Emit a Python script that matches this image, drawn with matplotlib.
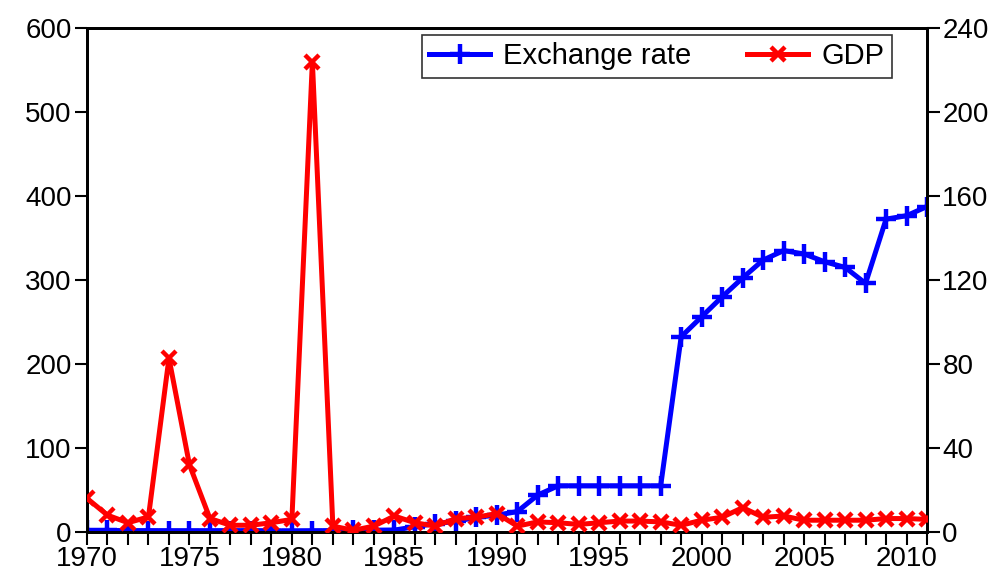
import matplotlib.pyplot as plt
import numpy as np

plt.rcParams['font.family'] = ['Liberation Sans', 'DejaVu Sans']

years = np.arange(1970, 2012)

# exchange rate (right axis)
exchange_rate = [0.71, 0.71, 0.66, 0.66, 0.63, 0.62, 0.63, 0.65, 0.64, 0.60,
                 0.55, 0.61, 0.67, 0.72, 0.77, 0.89, 2.5, 4.0, 5.0, 7.0,
                 8.0, 9.7, 17.6, 22.0, 22.0, 22.0, 22.0, 22.0, 22.0, 93.0,
                 102.5, 112.0, 121.0, 129.5, 134.0, 132.4, 128.7, 126.0, 118.4, 149.0,
                 150.6, 155.0]

# GDP (left axis)
gdp = [40, 20, 11, 18, 207, 80, 16, 8, 8, 11,
       15, 560, 7, 2, 7, 19, 11, 7, 16, 17.5,
       22, 7, 12, 11, 9, 11, 13, 13, 12, 8,
       14, 17.5, 29, 17.5, 19, 14, 14, 14, 14, 16,
       16, 15]

fig = plt.figure(figsize=(10.07, 5.74), dpi=100)
ax = fig.add_axes([0.0864, 0.0732, 0.8342, 0.878])
ax2 = ax.twinx()

l1, = ax2.plot(years, exchange_rate, color="#0000ff", lw=3.6, marker="+",
               ms=14, mew=3.2, label="Exchange rate", zorder=2)
l2, = ax.plot(years, gdp, color="#ff0000", lw=3.6, marker="x",
              ms=10, mew=3.2, label="GDP", zorder=3)

# left (GDP) axes in front so red sits on top of blue
ax.set_zorder(ax2.get_zorder() + 1)
ax.patch.set_visible(False)

ax.set_xlim(1970, 2011)
ax.set_ylim(0, 600)
ax2.set_ylim(0, 240)
ax.set_yticks(np.arange(0, 601, 100))
ax2.set_yticks(np.arange(0, 241, 40))
ax.set_xticks(np.arange(1970, 2011, 5))
ax.set_xticks(years, minor=True)

for a in (ax, ax2):
    a.tick_params(direction="out", length=9, width=1.5, labelsize=20, pad=2)
    for s in a.spines.values():
        s.set_linewidth(2)
ax.tick_params(axis="x", which="minor", direction="out", length=9, width=1.5)
ax.tick_params(axis="x", pad=1)

leg = ax.legend([l1, l2], ["Exchange rate", "GDP"], loc="upper right",
                ncol=2, fontsize=21, frameon=True, fancybox=False,
                edgecolor="black", borderaxespad=0, handlelength=2.1,
                handletextpad=0.45, columnspacing=1.9, borderpad=0.25,
                bbox_to_anchor=(0.958, 0.986))
leg.get_frame().set_linewidth(1.2)

fig.savefig("out.png", dpi=100)
